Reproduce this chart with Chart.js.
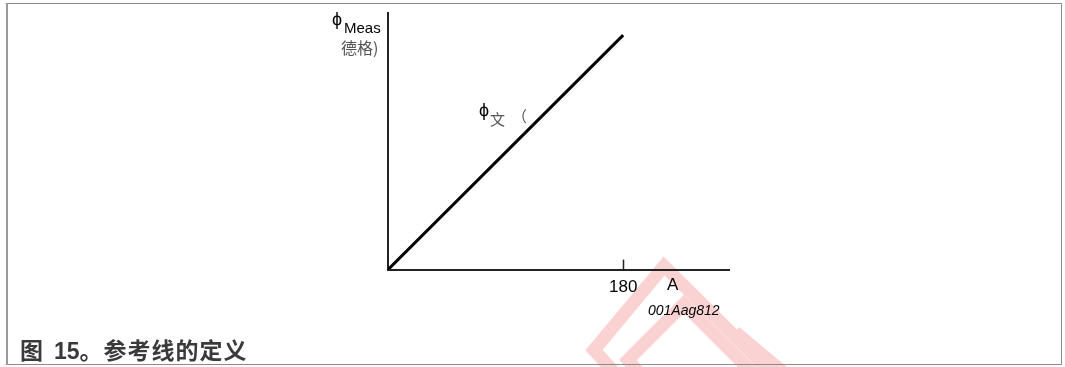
<!DOCTYPE html>
<html>
<head>
<meta charset="utf-8">
<script src="https://cdn.jsdelivr.net/npm/chart.js@4"></script>
<style>
body{margin:0;background:#fff;font-family:"Liberation Sans",Arial,sans-serif;}
#wrap{position:relative;width:1065px;height:367px;overflow:hidden;}
#frame{position:absolute;left:6px;top:3px;width:1056px;height:362px;border:1px solid #8a8a8a;border-left:2px solid #9a9a9a;box-sizing:border-box;}
canvas{position:absolute;left:0;top:0;}
.t{position:absolute;white-space:nowrap;line-height:1;}
.cjk{font-family:"Noto Sans CJK SC",sans-serif;}
</style>
</head>
<body>
<div id="wrap">
  <canvas id="refChart" width="1065" height="367"></canvas>
  <div id="frame"></div>
  <div class="t" style="left:332px;top:10px;font-size:18px;">ϕ</div>
  <div class="t" style="left:344px;top:20px;font-size:15px;">Meas</div>
  <div class="t cjk" style="left:341px;top:39px;font-size:16px;color:#555;">德格)</div>
  <div class="t" style="left:479px;top:101px;font-size:18px;">ϕ</div>
  <div class="t cjk" style="left:490px;top:111px;font-size:15px;color:#555;">文</div>
  <div class="t cjk" style="left:512px;top:108px;font-size:15px;color:#555;">（</div>
  <div class="t" style="left:667px;top:276px;font-size:17px;">A</div>
  <div class="t" style="left:648px;top:303px;font-size:14px;font-style:italic;">001Aag812</div>
  <div class="t" style="left:20px;top:338px;font-size:23px;font-weight:bold;color:#3a3a3a;"><span class="cjk">图</span>&thinsp; 15<span class="cjk" style="letter-spacing:1px;">。参考线的定义</span></div>
</div>
<script>
// reference line: measured angle vs. actual angle
const xValues=[0,180];
const yValues=[0,180];
const xTicks=[180];
const xMax=261;
const yMax=197;

// faint logo stamp behind the plot
const stamp={
  id:'stamp',
  beforeDraw(chart){
    const c=chart.ctx;
    c.save();
    c.strokeStyle='#fbd2d2';
    c.lineWidth=13;
    c.lineJoin='miter';
    const paths=[
      [[614,372],[594,350],[664,266],[775,376]],
      [[640,374],[628,360],[684,304],[752,372]],
      [[735,332],[790,378]]
    ];
    paths.forEach(p=>{c.beginPath();c.moveTo(p[0][0],p[0][1]);p.slice(1).forEach(q=>c.lineTo(q[0],q[1]));c.stroke();});
    c.restore();
  }
};

// short tick marks pointing into the plot
const innerTicks={
  id:'innerTicks',
  afterDraw(chart){
    const c=chart.ctx, xs=chart.scales.x, y0=chart.chartArea.bottom;
    c.save();
    c.strokeStyle='#222';
    c.lineWidth=1.5;
    xTicks.forEach(v=>{const px=Math.round(xs.getPixelForValue(v))+0.5;c.beginPath();c.moveTo(px,y0);c.lineTo(px,y0-10);c.stroke();});
    c.restore();
  }
};

new Chart(document.getElementById('refChart'),{
  type:'scatter',
  data:{datasets:[{
    data:xValues.map((x,i)=>({x,y:yValues[i]})),
    showLine:true,borderColor:'#000',borderWidth:3,pointRadius:0,fill:false
  }]},
  options:{
    responsive:false,animation:false,
    layout:{padding:{left:380,right:336,top:13,bottom:69}},
    plugins:{legend:{display:false},tooltip:{enabled:false}},
    scales:{
      x:{type:'linear',min:0,max:xMax,
        afterBuildTicks:s=>{s.ticks=xTicks.map(v=>({value:v}));},
        grid:{display:false},
        border:{display:true,color:'#222',width:2},
        ticks:{color:'#000',padding:0,font:{family:'"Liberation Sans", Arial',size:17},maxRotation:0}},
      y:{type:'linear',min:0,max:yMax,
        grid:{display:false},
        border:{display:true,color:'#222',width:2},
        ticks:{display:false}}
    }
  },
  plugins:[stamp,innerTicks]
});
</script>
</body>
</html>
